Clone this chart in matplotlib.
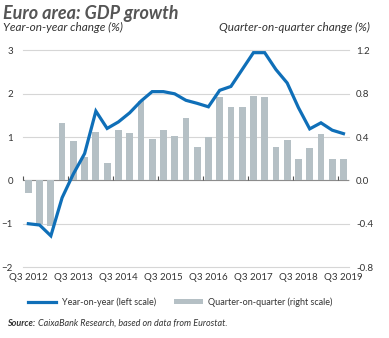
import numpy as np
import matplotlib.pyplot as plt
from matplotlib.lines import Line2D
from matplotlib.patches import Patch

plt.rcParams['font.family'] = ['Lato', 'DejaVu Sans']

# quarters Q3 2012 .. Q3 2019
years = list(range(2012, 2020))
tick_labels = ['Q3 %d' % y for y in years]

# year-on-year change (%), left scale
yoy = [-1.0, -1.03, -1.28, -0.4, 0.15, 0.62, 1.6, 1.2, 1.35, 1.56,
       1.83, 2.05, 2.05, 2.0, 1.85, 1.78, 1.7, 2.08, 2.17, 2.56,
       2.95, 2.95, 2.56, 2.25, 1.68, 1.19, 1.33, 1.16, 1.08]
# quarter-on-quarter change (%), right scale
qoq = [-0.12, -0.4, -0.42, 0.53, 0.36, 0.22, 0.45, 0.16, 0.47, 0.44,
       0.73, 0.38, 0.47, 0.41, 0.58, 0.31, 0.40, 0.77, 0.68, 0.68,
       0.78, 0.77, 0.31, 0.37, 0.20, 0.30, 0.43, 0.20, 0.20]

blue = '#0f6fb8'
grey_bar = '#b5c0c5'
txt = '#333333'

x = np.arange(len(yoy))

fig = plt.figure(figsize=(3.89, 3.38), dpi=100)
ax = fig.add_axes([0.0584, 0.210, 0.839, 0.6406])
ax2 = ax.twinx()

# bars on the right scale
ax2.bar(x, qoq, width=0.6, color=grey_bar, zorder=2)
ax2.set_ylim(-0.8, 1.2)
ax2.set_yticks([-0.8, -0.4, 0.0, 0.4, 0.8, 1.2])
ax2.set_yticklabels(['-0.8', '-0.4', '0.0', '0.4', '0.8', '1.2'])
ax2.grid(axis='y', color='#d6d6d6', lw=0.8, zorder=0)
ax2.set_axisbelow(True)
for gl in ax2.get_ygridlines():
    gl.set_clip_on(False)
ax2.axhline(0, color='#8c8c8c', lw=0.8, zorder=1)

# line on the left scale, drawn on top
ax.set_zorder(ax2.get_zorder() + 1)
ax.patch.set_visible(False)
ax.plot(x, yoy, color=blue, lw=2.3, solid_joinstyle='miter', zorder=3)
ax.set_ylim(-2, 3)
ax.set_yticks(range(-2, 4))
ax.set_xlim(-0.5, len(yoy) - 0.5)
ax.set_xticks(x[::4])
ax.set_xticklabels(tick_labels)

for a in (ax, ax2):
    for s in a.spines.values():
        s.set_visible(False)
ax.tick_params(axis='y', length=0, pad=7, labelsize=7, colors=txt)
ax2.tick_params(axis='y', length=0, pad=5, labelsize=7, colors=txt)
ax.tick_params(axis='x', length=0, pad=4, labelsize=7, colors=txt)

# small ticks at year boundaries on the zero line
sec = ax.secondary_xaxis(0.4)
sec.set_xticks(x[::4] - 0.5)
sec.set_xticklabels([])
sec.spines['bottom'].set_visible(False)
sec.tick_params(axis='x', direction='in', length=3, width=0.8, color='#555555')

# texts
fig.text(0.008, 1 - 19 / 338, 'Euro area: GDP growth', fontsize=13,
         fontweight='bold', fontstyle='italic', color='#555555', va='baseline')
fig.text(0.008, 1 - 27 / 338, 'Year-on-year change (%)', fontsize=8.5,
         fontstyle='italic', color=txt, va='center')
fig.text(0.951, 1 - 27 / 338, 'Quarter-on-quarter change (%)', fontsize=8.5,
         fontstyle='italic', color=txt, va='center', ha='right')

handles = [Line2D([0], [0], color=blue, lw=2.3),
           Patch(facecolor=grey_bar, edgecolor='none')]
fig.legend(handles, ['Year-on-year (left scale)', 'Quarter-on-quarter (right scale)'],
           loc='center', bbox_to_anchor=(0.463, 1 - 302 / 338), ncol=2, frameon=False,
           fontsize=6.5, handlelength=3.2, handleheight=0.35, columnspacing=2.0,
           handletextpad=0.6, labelcolor=txt)

fig.text(0.018, 1 - 323 / 338, 'Source:', fontsize=6.5, fontweight='bold',
         fontstyle='italic', color=txt, va='center')
fig.text(0.098, 1 - 323 / 338, 'CaixaBank Research, based on data from Eurostat.',
         fontsize=6.5, fontstyle='italic', color=txt, va='center')

fig.savefig('out.png', dpi=100)
